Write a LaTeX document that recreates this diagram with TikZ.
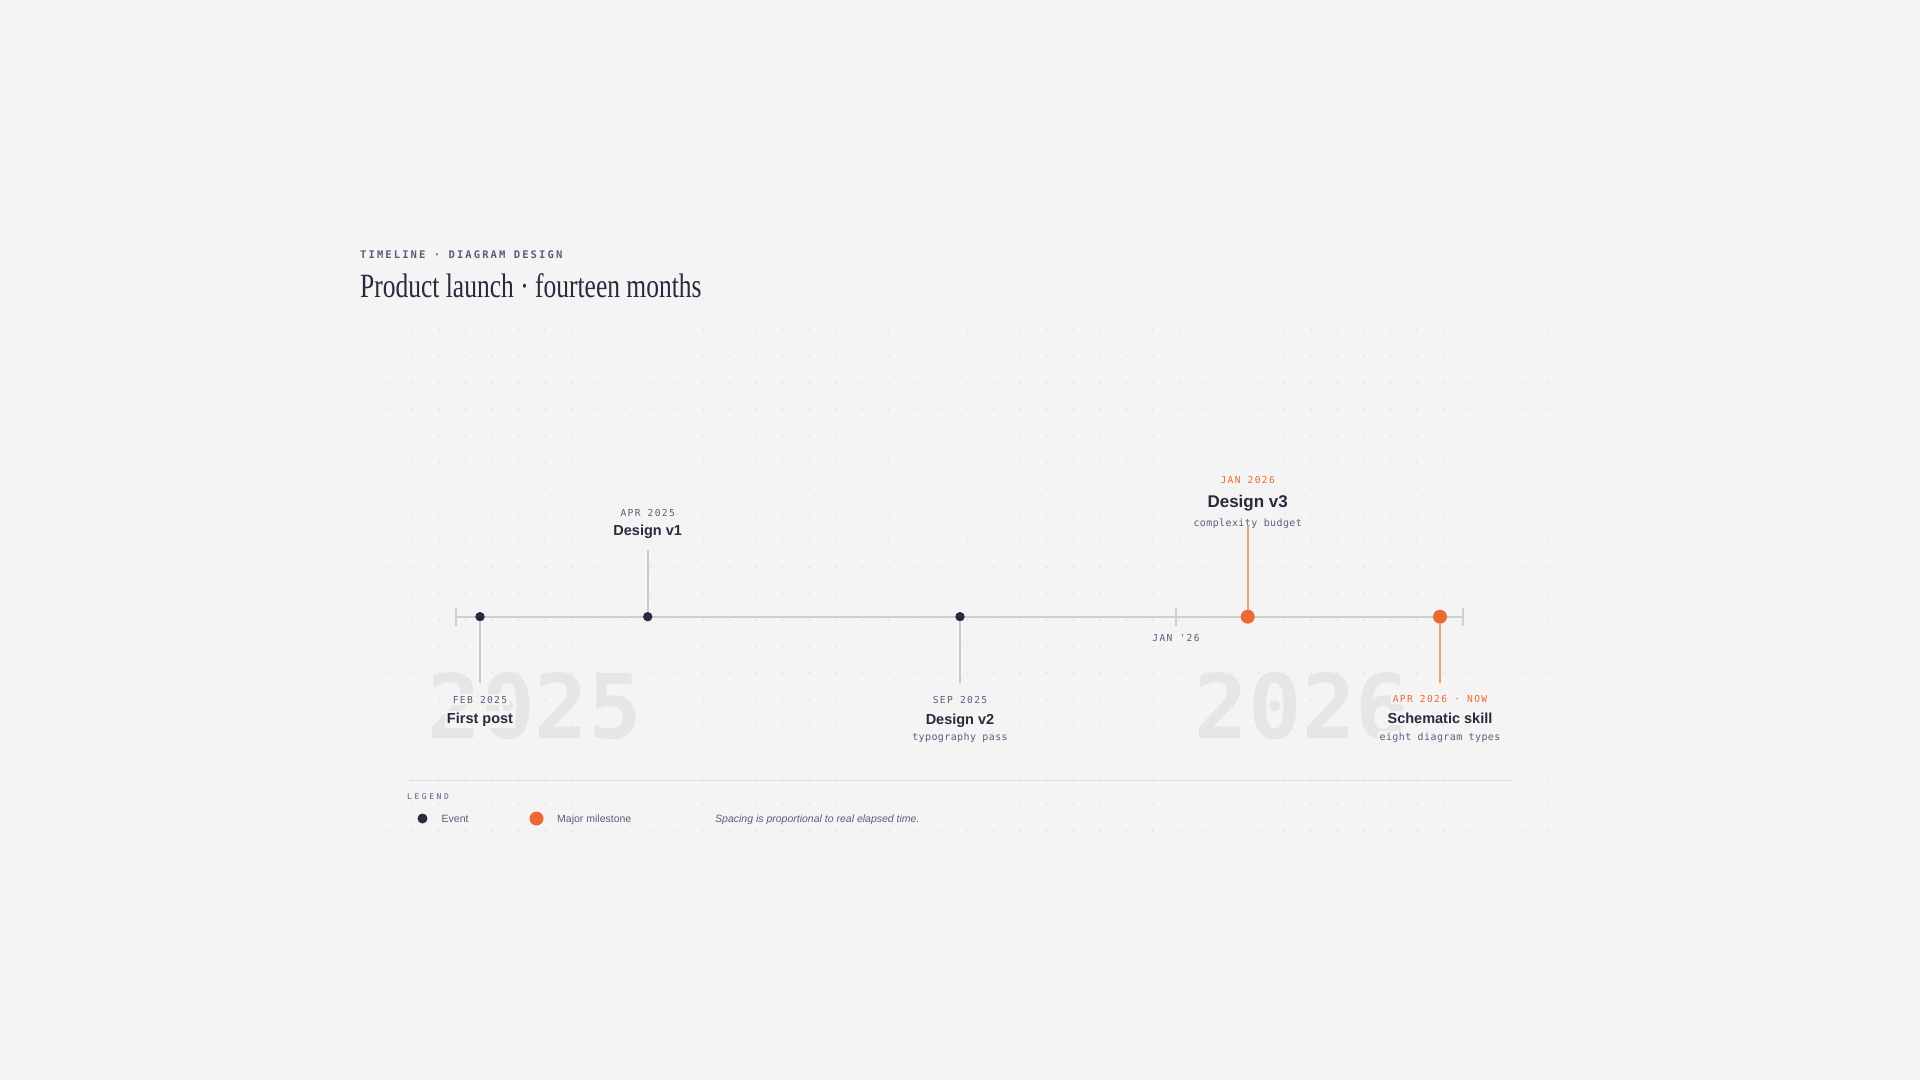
\documentclass[tikz,border=0pt]{standalone}
\usepackage{fontspec}
\setmainfont{Liberation Sans}
\newfontfamily\titlefont[FakeStretch=0.75]{Liberation Serif}
\newfontfamily\kickerfont[LetterSpace=20]{DejaVu Sans Mono}
\newfontfamily\datefont[LetterSpace=14,Ligatures=TeXOff]{DejaVu Sans Mono}
\newfontfamily\notefont[LetterSpace=4]{DejaVu Sans Mono}
\newfontfamily\legendfont[LetterSpace=32]{DejaVu Sans Mono}
\newfontfamily\yearfont{DejaVu Sans Mono}
\usetikzlibrary{positioning}
\definecolor{paper}{HTML}{F4F4F4}
\definecolor{ink}{HTML}{272B3B}
\definecolor{muted}{HTML}{56607A}
\definecolor{accent}{HTML}{EB6A34}
\definecolor{accentsoft}{HTML}{EF9C78}
\definecolor{axisgrey}{HTML}{CDCFD3}
\definecolor{stemgrey}{HTML}{C9CACD}
\definecolor{yeargrey}{HTML}{E6E6E6}
\definecolor{gridgrey}{HTML}{E2E2E2}
\definecolor{rulegrey}{HTML}{E0E0E2}
\begin{document}
\begin{tikzpicture}[x=1pt,y=-1pt,
    dot/.style={circle,fill=ink,inner sep=0pt,minimum size=9.4pt},
    milestone/.style={circle,fill=accent,inner sep=0pt,minimum size=14pt},
    stem/.style={stemgrey,line width=1.6pt},
    hotstem/.style={accentsoft,line width=1.6pt},
    datelabel/.style={anchor=base,text=muted,fill=paper,inner sep=1.5pt,font=\datefont\fontsize{9.6}{11}\selectfont},
    eventlabel/.style={anchor=base,text=ink,fill=paper,inner sep=1.5pt,font=\bfseries\fontsize{14.5}{16}\selectfont},
    notelabel/.style={anchor=base,text=muted,fill=paper,inner sep=1.5pt,font=\notefont\fontsize{10}{12}\selectfont},
    yearlabel/.style={anchor=base,text=yeargrey,inner sep=0pt,font=\yearfont\bfseries\fontsize{89}{89}\selectfont},
    legendtext/.style={anchor=base west,text=muted,inner sep=0pt,font=\fontsize{10.5}{12}\selectfont}]
    \useasboundingbox (0,0) rectangle (1920,1080);
    \fill[paper] (0,0) rectangle (1920,1080);
    % Dot grid
    \foreach \i in {0,...,45} {
        \foreach \j in {0,...,19} {
            \fill[gridgrey] ({360+26.42*\i},{330+26.37*\j}) circle (1pt);
        }
    }
    % Heading
    \node [anchor=base west,inner sep=0pt,text=muted,font=\kickerfont\bfseries\fontsize{10.5}{12}\selectfont]
        (kicker) at (360,258) {TIMELINE · DIAGRAM DESIGN};
    \node [anchor=base west,inner sep=0pt,text=ink,font=\titlefont\fontsize{34}{38}\selectfont]
        (title) at (360,297.5) {Product launch · fourteen months};
    % Year watermarks
    \node [yearlabel] (y2025) at (535,738) {2025};
    \node [yearlabel] (y2026) at (1302,738) {2026};
    % Labels
    \node [datelabel] (feb-date) at (480,703) {FEB 2025};
    \node [eventlabel] (feb-name) at (480,723.3) {First post};
    \node [datelabel] (apr-date) at (647.7,516) {APR 2025};
    \node [eventlabel] (apr-name) at (647.7,535.7) {Design v1};
    \node [datelabel] (sep-date) at (960,703) {SEP 2025};
    \node [eventlabel] (sep-name) at (960,724) {Design v2};
    \node [notelabel] (sep-note) at (960,740) {typography pass};
    \node [datelabel,text=accent] (jan-date) at (1247.7,483) {JAN 2026};
    \node [eventlabel,font=\bfseries\fontsize{17}{19}\selectfont] (jan-name) at (1247.7,507.7) {Design v3};
    \node [notelabel] (jan-note) at (1247.7,526) {complexity budget};
    \node [datelabel,text=accent] (now-date) at (1440,702.5) {APR 2026 · NOW};
    \node [eventlabel] (now-name) at (1440,723.3) {Schematic skill};
    \node [notelabel] (now-note) at (1440,740) {eight diagram types};
    % Draw axis
    \coordinate (start) at (456,616.7);
    \coordinate (end) at (1463,616.7);
    \coordinate (turn) at (1176,616.7);
    \draw [axisgrey,line width=1.8pt] (start) -- (end);
    \foreach \t in {start,end,turn}
        \draw [axisgrey,line width=1.5pt] ([yshift=-9pt]\t) -- ([yshift=9pt]\t);
    \node [datelabel,fill=none] (turn-label) at (1176,641) {JAN '26};
    % Events
    \node [dot] (feb) at (480,616.7) {};
    \node [dot] (apr) at (647.7,616.7) {};
    \node [dot] (sep) at (960,616.7) {};
    \node [milestone] (jan) at (1247.7,616.7) {};
    \node [milestone] (now) at (1440,616.7) {};
    \coordinate (feb-tip) at (480,683);
    \coordinate (apr-tip) at (647.7,550);
    \coordinate (sep-tip) at (960,683);
    \coordinate (jan-tip) at (1247.7,525);
    \coordinate (now-tip) at (1440,683);
    \draw [stem] (feb) -- (feb-tip);
    \draw [stem] (apr) -- (apr-tip);
    \draw [stem] (sep) -- (sep-tip);
    \draw [hotstem] (jan) -- (jan-tip);
    \draw [hotstem] (now) -- (now-tip);
    % Legend
    \coordinate (rule-l) at (407,780);
    \coordinate (rule-r) at (1512,780);
    \draw [rulegrey,line width=1pt] (rule-l) -- (rule-r);
    \node [anchor=base west,inner sep=0pt,text=muted,font=\legendfont\fontsize{8}{10}\selectfont]
        (legend) at (407,799) {LEGEND};
    \node [dot,minimum size=10pt] (key-event) at (422.5,818.5) {};
    \node [legendtext] (key-event-text) at (441.5,822.3) {Event};
    \node [milestone] (key-major) at (536.5,818.5) {};
    \node [legendtext] (key-major-text) at (557,822.3) {Major milestone};
    \node [legendtext,font=\itshape\fontsize{10.5}{12}\selectfont] (key-note) at (715,822.3)
        {Spacing is proportional to real elapsed time.};
\end{tikzpicture}
\end{document}
